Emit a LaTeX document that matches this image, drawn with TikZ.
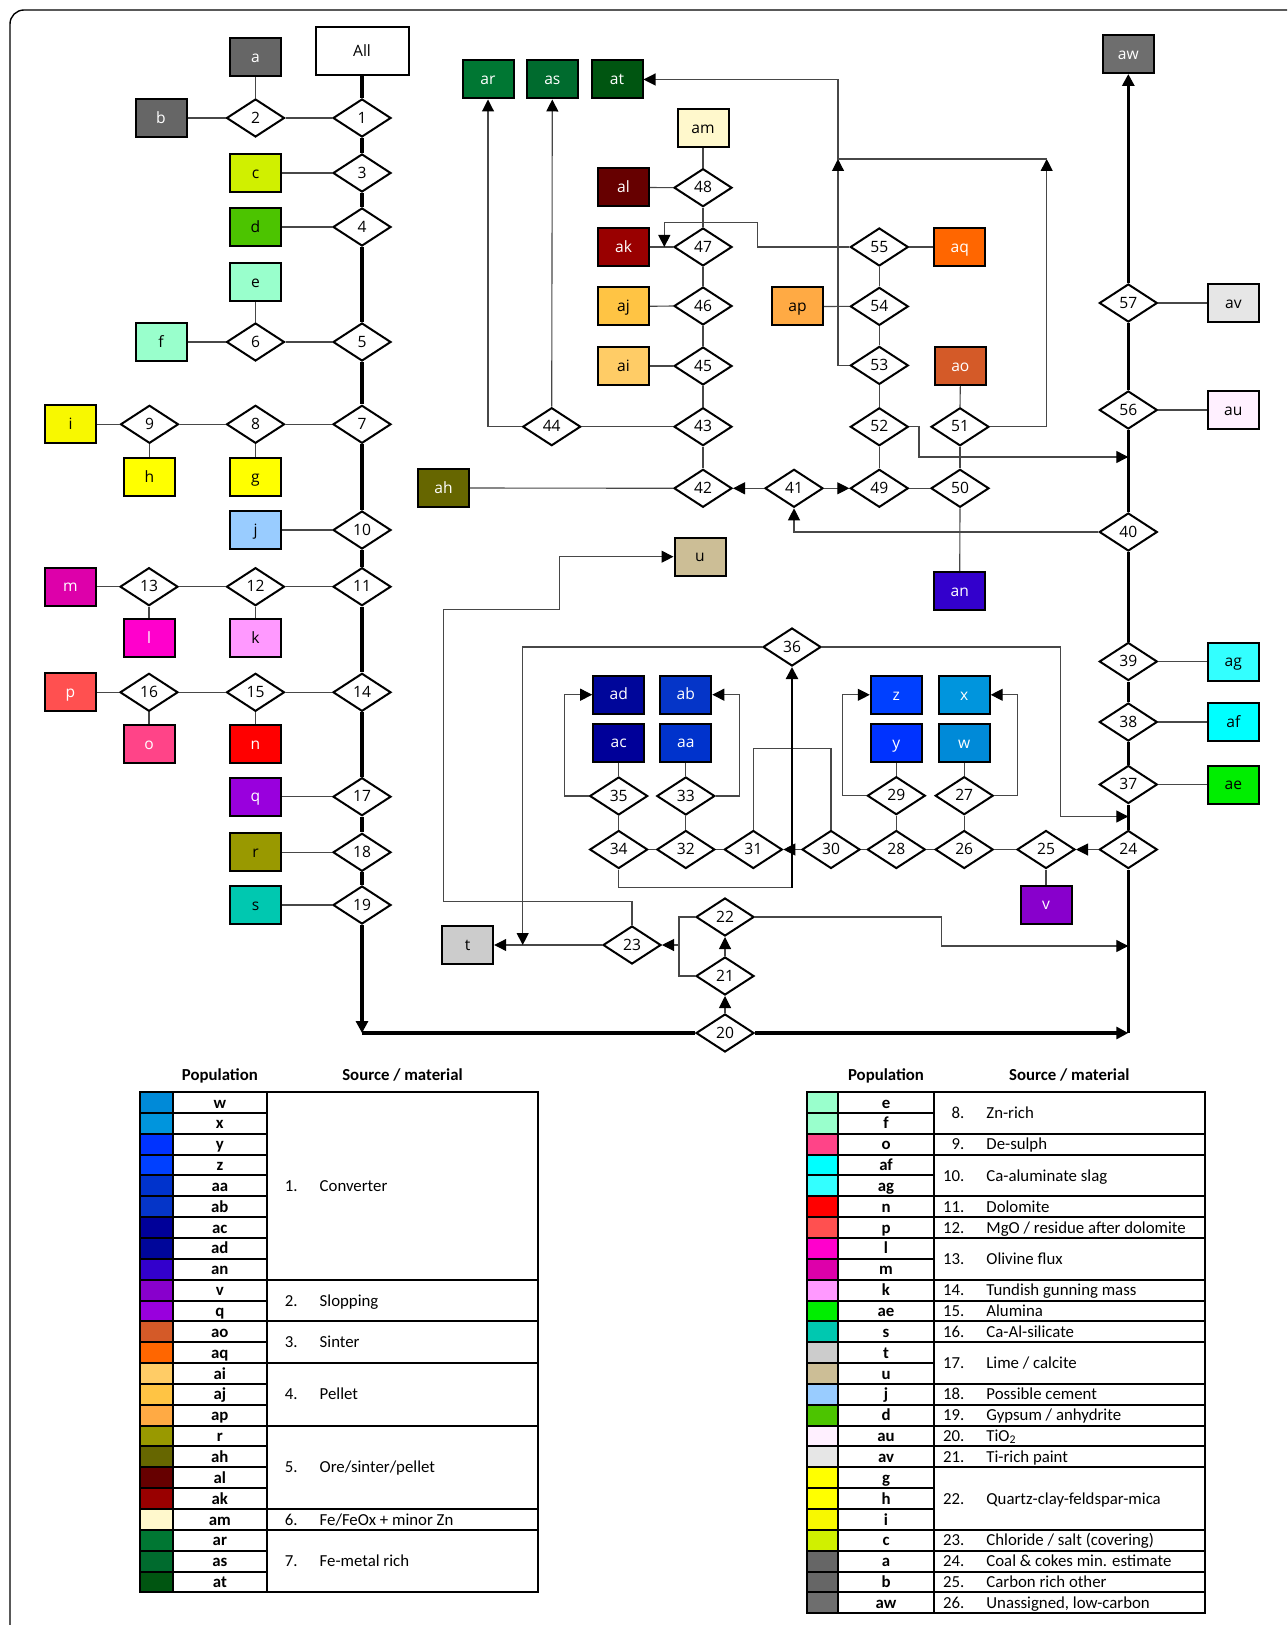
\documentclass[tikz,border=0pt]{standalone}
\usepackage{fontspec}
\setmainfont{Open Sans}
\newfontfamily\legf{Carlito}
\usetikzlibrary{arrows.meta,shapes.geometric}
\definecolor{Ca}{HTML}{666666}\definecolor{Cb}{HTML}{666666}\definecolor{Caw}{HTML}{6E6E6E}
\definecolor{Cc}{HTML}{D0F000}\definecolor{Cd}{HTML}{4CC400}
\definecolor{Ce}{HTML}{99FFCC}\definecolor{Cf}{HTML}{99FFCC}
\definecolor{Cg}{HTML}{FFFF00}\definecolor{Ch}{HTML}{FFFF00}\definecolor{Ci}{HTML}{F8F800}
\definecolor{Cj}{HTML}{99CCFF}\definecolor{Ck}{HTML}{FF99FF}\definecolor{Cl}{HTML}{FF00CC}
\definecolor{Cm}{HTML}{DD00AA}\definecolor{Cn}{HTML}{FF0000}\definecolor{Co}{HTML}{FF4488}
\definecolor{Cp}{HTML}{FF5050}\definecolor{Cq}{HTML}{9900DD}\definecolor{Cr}{HTML}{999900}
\definecolor{Cs}{HTML}{00C8B0}\definecolor{Ct}{HTML}{CCCCCC}\definecolor{Cu}{HTML}{CCBE96}
\definecolor{Cv}{HTML}{8800CC}\definecolor{Cw}{HTML}{008AD8}\definecolor{Cx}{HTML}{0095DD}
\definecolor{Cy}{HTML}{0033FF}\definecolor{Cz}{HTML}{0040FF}\definecolor{Caa}{HTML}{0033CC}
\definecolor{Cab}{HTML}{0535C8}\definecolor{Cac}{HTML}{000099}\definecolor{Cad}{HTML}{00069A}
\definecolor{Cae}{HTML}{00EE00}\definecolor{Caf}{HTML}{00FFFF}\definecolor{Cag}{HTML}{33FFFF}
\definecolor{Cah}{HTML}{666600}\definecolor{Cai}{HTML}{FFCC66}\definecolor{Caj}{HTML}{FFC444}
\definecolor{Cak}{HTML}{990000}\definecolor{Cal}{HTML}{660000}\definecolor{Cam}{HTML}{FFF8CC}
\definecolor{Can}{HTML}{3300CC}\definecolor{Cao}{HTML}{D45A28}\definecolor{Cap}{HTML}{FFAA44}
\definecolor{Caq}{HTML}{FF6600}\definecolor{Car}{HTML}{007733}\definecolor{Cas}{HTML}{006B2E}
\definecolor{Cat}{HTML}{005511}\definecolor{Cau}{HTML}{FFF0FF}\definecolor{Cav}{HTML}{E6E6E6}
\newcommand\nfnt{\fontsize{7.8}{9}\selectfont}
\newcommand\lgfnt{\legf\fontsize{8.4}{10}\selectfont}
\newcommand\legrp[6]{%
  \draw[lgl] (#1,{1092+20.85*(#3)}) rectangle (#2,{1092+20.85*(#3+#4)});
  \node[ltx,anchor=east] at ({#1+31},{1092+20.85*(#3+#4/2)}) {#5};
  \node[ltx,anchor=west] at ({#1+52.3},{1092+20.85*(#3+#4/2)}) {#6};}
\begin{document}
\begin{tikzpicture}[x=0.5pt,y=-0.5pt,
  bx/.style={draw=black, line width=1pt, minimum width=25.5pt, minimum height=19pt, inner sep=0pt, text height=5.2pt, text depth=0pt, font=\nfnt},
  wt/.style={text=white},
  dm/.style={diamond, draw=black, line width=1pt, aspect=1.5, minimum width=29pt, minimum height=19pt, inner sep=0pt, fill=white, text height=5.2pt, text depth=0pt, font=\nfnt},
  ln/.style={draw=black!72, line width=0.55pt},
  tk/.style={draw=black, line width=1.7pt},
  mk/.style={draw=black, line width=1.1pt},
  arr/.style={-{Triangle[length=6pt,width=6pt,color=black,fill=black]}},
  lgl/.style={draw=black, line width=1pt},
  ltx/.style={font=\lgfnt, inner sep=0pt, text height=5.6pt, text depth=0pt},
  lpop/.style={font=\lgfnt\bfseries, inner sep=0pt, text height=5.6pt, text depth=0pt}]
\useasboundingbox (0,0) rectangle (1287,1625);
\fill[white] (0,0) rectangle (1287,1625);
\begin{scope}
\clip (0,0) rectangle (1287,1625);
\draw[line width=0.7pt, rounded corners=7pt] (10,10) rectangle (1330,1670);
\end{scope}
% ---------- boxes ----------
\node[bx,fill=white,minimum width=46.5pt,minimum height=24pt] (BAll) at (362,51) {All};
\node[bx,fill=Ca,wt] (Ba) at (255.5,57.5) {a};
\node[bx,fill=Cb,wt] (Bb) at (161,118) {b};
\node[bx,fill=Cc] (Bc) at (255.5,173) {c};
\node[bx,fill=Cd] (Bd) at (255.5,227) {d};
\node[bx,fill=Ce] (Be) at (255.5,282) {e};
\node[bx,fill=Cf] (Bf) at (161,342) {f};
\node[bx,fill=Ci] (Bi) at (70.5,424.3) {i};
\node[bx,fill=Ch] (Bh) at (149.5,477) {h};
\node[bx,fill=Cg] (Bg) at (255.5,477) {g};
\node[bx,fill=Cj] (Bj) at (255.5,530) {j};
\node[bx,fill=Cm,wt] (Bm) at (70.5,586.7) {m};
\node[bx,fill=Cl,wt] (Bl) at (149,638.3) {l};
\node[bx,fill=Ck] (Bk) at (255.5,638.3) {k};
\node[bx,fill=Cp,wt] (Bp) at (70.5,692.3) {p};
\node[bx,fill=Co,wt] (Bo) at (149,744) {o};
\node[bx,fill=Cn,wt] (Bn) at (255.5,744) {n};
\node[bx,fill=Cq,wt] (Bq) at (255.5,796.7) {q};
\node[bx,fill=Cr] (Br) at (255.5,852.3) {r};
\node[bx,fill=Cs] (Bs) at (255.5,905) {s};
\node[bx,fill=Ct] (Bt) at (467.7,945) {t};
\node[bx,fill=Cu] (Bu) at (700,556.7) {u};
\node[bx,fill=Cah,wt] (Bah) at (443.5,488) {ah};
\node[bx,fill=Car,wt] (Bar) at (488,79.5) {ar};
\node[bx,fill=Cas,wt] (Bas) at (552.3,79.5) {as};
\node[bx,fill=Cat,wt] (Bat) at (617,79.5) {at};
\node[bx,fill=Cam] (Bam) at (703,128.5) {am};
\node[bx,fill=Cal,wt] (Bal) at (623.5,187.5) {al};
\node[bx,fill=Cak,wt] (Bak) at (623.5,247) {ak};
\node[bx,fill=Caj] (Baj) at (623.5,306.3) {aj};
\node[bx,fill=Cai] (Bai) at (623.5,366) {ai};
\node[bx,fill=Cap] (Bap) at (797.5,306.5) {ap};
\node[bx,fill=Caq,wt] (Baq) at (959.7,247) {aq};
\node[bx,fill=Cao,wt] (Bao) at (960.3,366) {ao};
\node[bx,fill=Can,wt] (Ban) at (959.7,591) {an};
\node[bx,fill=Caw,wt] (Baw) at (1128.3,54) {aw};
\node[bx,fill=Cav] (Bav) at (1233.3,303) {av};
\node[bx,fill=Cau] (Bau) at (1233.3,410) {au};
\node[bx,fill=Cag] (Bag) at (1233.3,661.5) {ag};
\node[bx,fill=Caf] (Baf) at (1233.3,722) {af};
\node[bx,fill=Cae] (Bae) at (1233.3,784.5) {ae};
\node[bx,fill=Cad,wt] (Bad) at (618.7,694.7) {ad};
\node[bx,fill=Cab,wt] (Bab) at (685.8,694.7) {ab};
\node[bx,fill=Cac,wt] (Bac) at (618.7,742.7) {ac};
\node[bx,fill=Caa,wt] (Baa) at (685.8,742.7) {aa};
\node[bx,fill=Cz,wt] (Bz) at (896.3,694.8) {z};
\node[bx,fill=Cx,wt] (Bx) at (964.2,694.8) {x};
\node[bx,fill=Cy,wt] (By) at (896.3,743) {y};
\node[bx,fill=Cw,wt] (Bw) at (964.2,743) {w};
\node[bx,fill=Cv,wt] (Bv) at (1046,904.5) {v};
% ---------- diamonds ----------
\node[dm] (D1) at (362,118) {1};
\node[dm] (D2) at (255.5,118) {2};
\node[dm] (D3) at (362,173) {3};
\node[dm] (D4) at (362,227) {4};
\node[dm] (D5) at (362,342) {5};
\node[dm] (D6) at (255.5,342) {6};
\node[dm] (D7) at (362,424.3) {7};
\node[dm] (D8) at (255.5,424.3) {8};
\node[dm] (D9) at (149.5,424.3) {9};
\node[dm] (D10) at (362,530) {10};
\node[dm] (D11) at (362,586.7) {11};
\node[dm] (D12) at (255.5,586.7) {12};
\node[dm] (D13) at (149,586.7) {13};
\node[dm] (D14) at (362,692.3) {14};
\node[dm] (D15) at (255.5,692.3) {15};
\node[dm] (D16) at (149,692.3) {16};
\node[dm] (D17) at (362,796.7) {17};
\node[dm] (D18) at (362,852.3) {18};
\node[dm] (D19) at (362,905) {19};
\node[dm] (D20) at (725,1033) {20};
\node[dm] (D21) at (725,976) {21};
\node[dm] (D22) at (725,917) {22};
\node[dm] (D23) at (632,945) {23};
\node[dm] (D24) at (1128.3,849.5) {24};
\node[dm] (D25) at (1046,849.5) {25};
\node[dm] (D26) at (964.2,849.5) {26};
\node[dm] (D27) at (964.2,795.7) {27};
\node[dm] (D28) at (896.3,849.5) {28};
\node[dm] (D29) at (896.3,795.7) {29};
\node[dm] (D30) at (831,849.5) {30};
\node[dm] (D31) at (753.3,849.5) {31};
\node[dm] (D32) at (685.8,849.5) {32};
\node[dm] (D33) at (685.8,796) {33};
\node[dm] (D34) at (618.7,849.5) {34};
\node[dm] (D35) at (618.7,796) {35};
\node[dm] (D36) at (792,647) {36};
\node[dm] (D37) at (1128.3,784.5) {37};
\node[dm] (D38) at (1128.3,722) {38};
\node[dm] (D39) at (1128.3,661.5) {39};
\node[dm] (D40) at (1128.3,532) {40};
\node[dm] (D41) at (794,488.3) {41};
\node[dm] (D42) at (703,488.3) {42};
\node[dm] (D43) at (703,426.7) {43};
\node[dm] (D44) at (551.7,426.7) {44};
\node[dm] (D45) at (703,366) {45};
\node[dm] (D46) at (703,306) {46};
\node[dm] (D47) at (703,247) {47};
\node[dm] (D48) at (703,187.7) {48};
\node[dm] (D49) at (879.3,488.3) {49};
\node[dm] (D50) at (960,488.3) {50};
\node[dm] (D51) at (960,426.8) {51};
\node[dm] (D52) at (879.3,426.8) {52};
\node[dm] (D53) at (879.3,365.4) {53};
\node[dm] (D54) at (879.3,306.4) {54};
\node[dm] (D55) at (879.3,247) {55};
\node[dm] (D56) at (1128.3,410) {56};
\node[dm] (D57) at (1128.3,303) {57};
% ---------- helper coordinates ----------
\coordinate (bl) at (362,1033);
\coordinate (br) at (1128.3,1033);
\coordinate (j23) at (679,945);
\coordinate (p1) at (443.3,901.7);
\coordinate (p2) at (443.3,609.3);
\coordinate (p3) at (559.3,609.3);
\coordinate (q1) at (522.7,945);
\coordinate (q2) at (1060.3,816.5);
\coordinate (q3) at (1128.3,816.5);
\coordinate (r1) at (941.7,946);
\coordinate (r2) at (1128.3,946);
\coordinate (s1) at (1017.3,694.8);
\coordinate (s2) at (842.3,694.8);
\coordinate (s3) at (739.3,694.7);
\coordinate (s4) at (564.7,694.7);
\coordinate (s5) at (800,748.3);
\coordinate (s6) at (792,887.7);
\coordinate (t1) at (757.3,222.3);
\coordinate (t2) at (664.3,247);
\coordinate (k1) at (838,159);
\coordinate (k2) at (1046.7,159);
\coordinate (m1) at (919,457);
\coordinate (m2) at (1128.3,457);
% ---------- thick trunks ----------
\draw[tk] (BAll.south) -- (D1.north);
\draw[tk] (D1.south) -- (D3.north);
\draw[tk] (D3.south) -- (D4.north);
\draw[tk] (D4.south) -- (D5.north);
\draw[tk] (D5.south) -- (D7.north);
\draw[tk] (D7.south) -- (D10.north);
\draw[tk] (D10.south) -- (D11.north);
\draw[tk] (D11.south) -- (D14.north);
\draw[tk] (D14.south) -- (D17.north);
\draw[tk] (D17.south) -- (D18.north);
\draw[tk] (D18.south) -- (D19.north);
\draw[tk,arr] (D19.south) -- (bl);
\draw[tk] (bl) -- (D20.west);
\draw[tk,arr] (D20.east) -- (br);
\draw[tk] (br) -- (D24.south);
\draw[tk] (D24.north) -- (D37.south);
\draw[tk] (D37.north) -- (D38.south);
\draw[tk] (D38.north) -- (D39.south);
\draw[tk] (D39.north) -- (D40.south);
\draw[tk] (D40.north) -- (D56.south);
\draw[tk] (D56.north) -- (D57.south);
\draw[tk,arr] (D57.north) -- (Baw.south);
% ---------- left side ----------
\draw[ln] (Ba.south) -- (D2.north);
\draw[ln] (Bb.east) -- (D2.west);
\draw[ln] (D2.east) -- (D1.west);
\draw[ln] (Bc.east) -- (D3.west);
\draw[ln] (Bd.east) -- (D4.west);
\draw[ln] (Be.south) -- (D6.north);
\draw[ln] (Bf.east) -- (D6.west);
\draw[ln] (D6.east) -- (D5.west);
\draw[ln] (Bi.east) -- (D9.west);
\draw[ln] (D9.east) -- (D8.west);
\draw[ln] (D8.east) -- (D7.west);
\draw[ln] (D9.south) -- (Bh.north);
\draw[ln] (D8.south) -- (Bg.north);
\draw[ln] (Bj.east) -- (D10.west);
\draw[ln] (Bm.east) -- (D13.west);
\draw[ln] (D13.east) -- (D12.west);
\draw[ln] (D12.east) -- (D11.west);
\draw[ln] (D13.south) -- (Bl.north);
\draw[ln] (D12.south) -- (Bk.north);
\draw[ln] (Bp.east) -- (D16.west);
\draw[ln] (D16.east) -- (D15.west);
\draw[ln] (D15.east) -- (D14.west);
\draw[ln] (D16.south) -- (Bo.north);
\draw[ln] (D15.south) -- (Bn.north);
\draw[ln] (Bq.east) -- (D17.west);
\draw[ln] (Br.east) -- (D18.west);
\draw[ln] (Bs.east) -- (D19.west);
% ---------- bottom middle ----------
\draw[ln,arr] (D20.north) -- (D21.south);
\draw[ln,arr] (D21.north) -- (D22.south);
\draw[ln] (D22.west) -| (j23) |- (D21.west);
\draw[ln,arr] (j23) -- (D23.east);
\draw[ln,arr] (D23.west) -- (Bt.east);
\draw[ln,arr] (D23.north) |- (p1) -- (p2) -- (p3) |- (Bu.west);
\draw[ln,arr] (D36.west) -| (q1);
\draw[ln,arr] (D36.east) -| (q2) -- (q3);
\draw[ln,arr] (D22.east) -| (r1) -- (r2);
% ---------- converter group ----------
\draw[ln,arr] (D24.west) -- (D25.east);
\draw[ln] (D25.south) -- (Bv.north);
\draw[ln] (D25.west) -- (D26.east);
\draw[ln] (D26.west) -- (D28.east);
\draw[ln] (D28.west) -- (D30.east);
\draw[ln,arr] (D30.west) -- (D31.east);
\draw[ln] (D31.west) -- (D32.east);
\draw[ln] (D32.west) -- (D34.east);
\draw[ln] (D26.north) -- (D27.south);
\draw[ln] (D27.north) -- (Bw.south);
\draw[ln,arr] (D27.east) -| (s1) -- (Bx.east);
\draw[ln] (D28.north) -- (D29.south);
\draw[ln] (D29.north) -- (By.south);
\draw[ln,arr] (D29.west) -| (s2) -- (Bz.west);
\draw[ln] (D32.north) -- (D33.south);
\draw[ln] (D33.north) -- (Baa.south);
\draw[ln,arr] (D33.east) -| (s3) -- (Bab.east);
\draw[ln] (D34.north) -- (D35.south);
\draw[ln] (D35.north) -- (Bac.south);
\draw[ln,arr] (D35.west) -| (s4) -- (Bad.west);
\draw[ln] (D31.north) |- (s5) -| (D30.north);
\draw[ln] (D34.south) |- (s6);
\draw[mk,arr] (s6) -- (D36.south);
% ---------- upper middle ----------
\draw[ln,arr] (D40.west) -| (D41.south);
\draw[ln,arr] (D41.west) -- (D42.east);
\draw[ln,arr] (D41.east) -- (D49.west);
\draw[ln] (Bah.east) -- (D42.west);
\draw[ln] (D42.north) -- (D43.south);
\draw[ln] (D43.west) -- (D44.east);
\draw[ln,arr] (D44.west) -| (Bar.south);
\draw[ln,arr] (D44.north) -- (Bas.south);
\draw[ln] (D43.north) -- (D45.south);
\draw[ln] (D45.north) -- (D46.south);
\draw[ln] (D46.north) -- (D47.south);
\draw[ln] (D47.north) -- (D48.south);
\draw[ln] (D48.north) -- (Bam.south);
\draw[ln] (Bai.east) -- (D45.west);
\draw[ln] (Baj.east) -- (D46.west);
\draw[ln] (Bak.east) -- (D47.west);
\draw[ln] (Bal.east) -- (D48.west);
\draw[ln,arr] (D55.west) -| (t1) -| (t2);
\draw[ln] (D49.east) -- (D50.west);
\draw[ln] (D49.north) -- (D52.south);
\draw[ln] (D52.north) -- (D53.south);
\draw[ln] (D53.north) -- (D54.south);
\draw[ln] (D54.north) -- (D55.south);
\draw[ln] (D55.east) -- (Baq.west);
\draw[ln] (Bap.east) -- (D54.west);
\draw[ln,arr] (D53.west) -| (k1);
\draw[ln,arr] (D51.east) -| (k2);
\draw[ln,arr] (k2) -- (k1) |- (Bat.east);
\draw[ln] (Bao.south) -- (D51.north);
\draw[ln] (D51.south) -- (D50.north);
\draw[ln] (D50.south) -- (Ban.north);
\draw[ln,arr] (D52.east) -| (m1) -- (m2);
% ---------- right side ----------
\draw[ln] (D57.east) -- (Bav.west);
\draw[ln] (D56.east) -- (Bau.west);
\draw[ln] (D39.east) -- (Bag.west);
\draw[ln] (D38.east) -- (Baf.west);
\draw[ln] (D37.east) -- (Bae.west);
% ---------- legend left ----------
\node[lpop] at (219.85,1074.8) {Population};
\node[lpop] at (402.5,1074.8) {Source / material};
\foreach \n [count=\i from 0] in {w,x,y,z,aa,ab,ac,ad,an,v,q,ao,aq,ai,aj,ap,r,ah,al,ak,am,ar,as,at}{
  \draw[lgl,fill=C\n] (140,{1092+20.85*\i}) rectangle (172.7,{1092+20.85*(\i+1)});
  \draw[lgl] (172.7,{1092+20.85*\i}) rectangle (267,{1092+20.85*(\i+1)});
  \node[lpop] at (219.85,{1092+20.85*(\i+0.5)}) {\n};
}
\legrp{267}{538}{0}{9}{1.}{Converter}
\legrp{267}{538}{9}{2}{2.}{Slopping}
\legrp{267}{538}{11}{2}{3.}{Sinter}
\legrp{267}{538}{13}{3}{4.}{Pellet}
\legrp{267}{538}{16}{4}{5.}{Ore/sinter/pellet}
\legrp{267}{538}{20}{1}{6.}{Fe/FeOx + minor Zn}
\legrp{267}{538}{21}{3}{7.}{Fe-metal rich}
% ---------- legend right ----------
\node[lpop] at (886,1074.8) {Population};
\node[lpop] at (1069.3,1074.8) {Source / material};
\foreach \n [count=\i from 0] in {e,f,o,af,ag,n,p,l,m,k,ae,s,t,u,j,d,au,av,g,h,i,c,a,b,aw}{
  \draw[lgl,fill=C\n] (806.7,{1092+20.85*\i}) rectangle (838.3,{1092+20.85*(\i+1)});
  \draw[lgl] (838.3,{1092+20.85*\i}) rectangle (933.7,{1092+20.85*(\i+1)});
  \node[lpop] at (886,{1092+20.85*(\i+0.5)}) {\n};
}
\legrp{933.7}{1205}{0}{2}{8.}{Zn-rich}
\legrp{933.7}{1205}{2}{1}{9.}{De-sulph}
\legrp{933.7}{1205}{3}{2}{10.}{Ca-aluminate slag}
\legrp{933.7}{1205}{5}{1}{11.}{Dolomite}
\legrp{933.7}{1205}{6}{1}{12.}{MgO / residue after dolomite}
\legrp{933.7}{1205}{7}{2}{13.}{Olivine flux}
\legrp{933.7}{1205}{9}{1}{14.}{Tundish gunning mass}
\legrp{933.7}{1205}{10}{1}{15.}{Alumina}
\legrp{933.7}{1205}{11}{1}{16.}{Ca-Al-silicate}
\legrp{933.7}{1205}{12}{2}{17.}{Lime / calcite}
\legrp{933.7}{1205}{14}{1}{18.}{Possible cement}
\legrp{933.7}{1205}{15}{1}{19.}{Gypsum / anhydrite}
\legrp{933.7}{1205}{16}{1}{20.}{TiO\textsubscript{2}}
\legrp{933.7}{1205}{17}{1}{21.}{Ti-rich paint}
\legrp{933.7}{1205}{18}{3}{22.}{Quartz-clay-feldspar-mica}
\legrp{933.7}{1205}{21}{1}{23.}{Chloride / salt (covering)}
\legrp{933.7}{1205}{22}{1}{24.}{Coal \& cokes min. estimate}
\legrp{933.7}{1205}{23}{1}{25.}{Carbon rich other}
\legrp{933.7}{1205}{24}{1}{26.}{Unassigned, low-carbon}
\end{tikzpicture}
\end{document}
